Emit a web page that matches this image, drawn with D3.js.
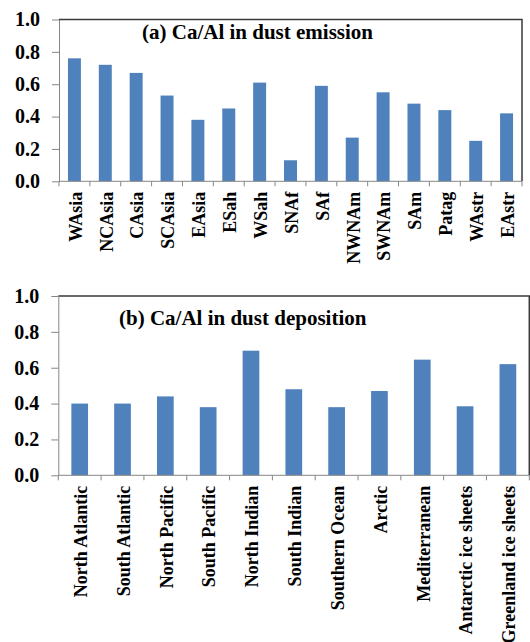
<!DOCTYPE html>
<html>
  <head>
    <meta charset="utf-8" />
    <title>Ca/Al ratios</title>
    <script src="https://cdn.jsdelivr.net/npm/d3@7"></script>
    <style>
      body { margin: 0; background: #fff; }
      text { font-family: "Liberation Serif", "Times New Roman", serif; font-weight: bold; fill: #000; }
    </style>
  </head>
  <body>
    <svg width="530" height="642"></svg>

    <script>
      // data
      const emissionRegions = ["WAsia", "NCAsia", "CAsia", "SCAsia", "EAsia", "ESah", "WSah", "SNAf",
        "SAf", "NWNAm", "SWNAm", "SAm", "Patag", "WAstr", "EAstr"];
      const emissionRatio = [0.76, 0.72, 0.67, 0.53, 0.38, 0.45, 0.61, 0.13,
        0.59, 0.27, 0.55, 0.48, 0.44, 0.25, 0.42];

      const depositionRegions = ["North Atlantic", "South Atlantic", "North Pacific", "South Pacific",
        "North Indian", "South Indian", "Southern Ocean", "Arctic", "Mediterranean",
        "Antarctic ice sheets", "Greenland ice sheets"];
      const depositionRatio = [0.40, 0.40, 0.44, 0.38, 0.695, 0.48, 0.38, 0.47, 0.645, 0.385, 0.62];

      const yTicks = [0, 0.2, 0.4, 0.6, 0.8, 1.0];

      const svg = d3.select("svg");

      // one panel: box, bars, axes, rotated labels, title
      function panel(cfg) {
        const g = svg.append("g");

        const x = d3.scaleBand()
          .domain(cfg.cats)
          .range([cfg.left, cfg.right])
          .paddingInner(cfg.pad)
          .paddingOuter(cfg.pad / 2);
        const y = d3.scaleLinear().domain([0, 1]).range([cfg.bottom, cfg.top]);

        // top / right frame
        g.append("path")
          .attr("d", `M${cfg.left},${cfg.top}H${cfg.right}V${cfg.bottom}`)
          .attr("fill", "none")
          .attr("stroke", "#3a3a3a")
          .attr("stroke-width", 1.5);

        g.selectAll("rect.bar")
          .data(cfg.values)
          .join("rect")
          .attr("class", "bar")
          .attr("x", (d, i) => x(cfg.cats[i]))
          .attr("y", d => y(d))
          .attr("width", x.bandwidth())
          .attr("height", d => y(0) - y(d))
          .attr("fill", "#4f81bd");

        // y axis
        const yAxis = g.append("g")
          .attr("transform", `translate(${cfg.left},0)`)
          .call(d3.axisLeft(y).tickValues(yTicks).tickFormat(d3.format(".1f"))
            .tickSize(7).tickSizeOuter(0).tickPadding(12));
        yAxis.attr("font-family", null).attr("font-size", null);
        yAxis.select(".domain").attr("stroke", "#868686");
        yAxis.selectAll(".tick line").attr("stroke", "#868686");
        yAxis.selectAll("text")
          .style("font-size", "20px")
          .style("font-family", "'Liberation Serif', serif")
          .style("font-weight", "bold")
          .attr("fill", "#000");

        // x axis line + boundary ticks
        const step = x.step();
        const edges = d3.range(cfg.cats.length + 1).map(i => cfg.left + i * step);
        g.append("line")
          .attr("x1", cfg.left).attr("x2", cfg.right)
          .attr("y1", cfg.bottom).attr("y2", cfg.bottom)
          .attr("stroke", "#868686");
        g.selectAll("line.xt")
          .data(edges)
          .join("line")
          .attr("class", "xt")
          .attr("x1", d => d).attr("x2", d => d)
          .attr("y1", cfg.bottom).attr("y2", cfg.bottom + 5)
          .attr("stroke", "#868686");

        g.selectAll("text.cat")
          .data(cfg.cats)
          .join("text")
          .attr("class", "cat")
          .attr("transform", d => `translate(${x(d) + x.bandwidth() / 2 + 1},${cfg.bottom + 10.5}) rotate(-90)`)
          .attr("dy", "0.35em")
          .attr("text-anchor", "end")
          .style("font-size", "18px")
          .text(d => d);

        g.append("text")
          .attr("x", cfg.titleX)
          .attr("y", cfg.titleY)
          .style("font-size", "21px")
          .text(cfg.title);
      }

      panel({
        cats: emissionRegions, values: emissionRatio,
        left: 59, right: 522, top: 19.5, bottom: 181.3, pad: 0.58,
        title: "(a) Ca/Al in dust emission", titleX: 142, titleY: 39
      });

      panel({
        cats: depositionRegions, values: depositionRatio,
        left: 58.3, right: 529.3, top: 296, bottom: 475.3, pad: 0.61,
        title: "(b) Ca/Al in dust deposition", titleX: 119, titleY: 325
      });
    </script>
  </body>
</html>
